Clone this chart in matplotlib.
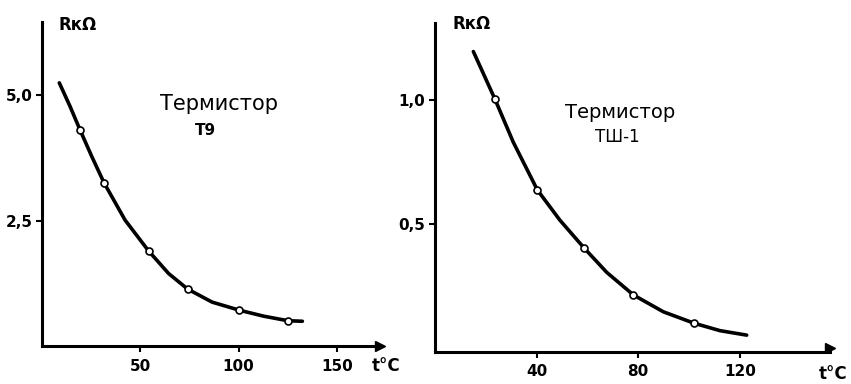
import numpy as np
import matplotlib.pyplot as plt

# left panel: thermistor T9
t9_temp = [19.4, 31.6, 54.2, 74.1, 100.4, 125.2]
t9_res = [4.30, 3.25, 1.90, 1.14, 0.72, 0.51]
t9_curve_t = [8.8, 14.3, 19.4, 25.4, 31.6, 42.3, 54.2, 64.4, 74.1, 86.6, 100.4, 112.9, 125.2, 132.5]
t9_curve_r = [5.24, 4.77, 4.30, 3.77, 3.25, 2.51, 1.90, 1.45, 1.14, 0.88, 0.72, 0.60, 0.51, 0.50]

# right panel: thermistor TSh-1
tw_temp = [23.6, 40.3, 58.8, 78.1, 102.0]
tw_res = [1.003, 0.637, 0.402, 0.214, 0.100]
tw_curve_t = [15.1, 23.6, 30.8, 40.3, 49.2, 58.8, 67.6, 78.1, 89.9, 102.0, 112.2, 122.7]
tw_curve_r = [1.195, 1.003, 0.83, 0.637, 0.515, 0.402, 0.305, 0.214, 0.146, 0.100, 0.070, 0.052]

left_xticks = [50, 100, 150]
left_yticks = [2.5, 5.0]
left_ylabels = ['2,5', '5,0']
right_xticks = [40, 80, 120]
right_yticks = [0.5, 1.0]
right_ylabels = ['0,5', '1,0']

tick_font = dict(family=['Liberation Sans Narrow', 'DejaVu Sans'], weight='bold', size=11)

fig = plt.figure(figsize=(8.51, 3.84), dpi=100)


def style_axes(ax, xticks, yticks, ylabels):
    for s in ['top', 'right']:
        ax.spines[s].set_visible(False)
    for s in ['left', 'bottom']:
        ax.spines[s].set_linewidth(2.2)
    ax.set_xticks(xticks)
    ax.set_xticklabels([str(v) for v in xticks], fontdict=tick_font)
    ax.set_yticks(yticks)
    ax.set_yticklabels(ylabels, fontdict=tick_font)
    ax.tick_params(axis='both', direction='out', length=4, width=1.5, pad=3)
    ax.tick_params(axis='x', pad=5)
    # arrow at the end of the x axis
    ax.plot(1, 0, '>k', markersize=7, transform=ax.get_yaxis_transform(), clip_on=False)
    ax.patch.set_alpha(0)


ax1 = fig.add_axes([42 / 851, 37.6 / 384, 338 / 851, 324.4 / 384])
ax1.plot(t9_curve_t, t9_curve_r, color='black', lw=2.6,
         solid_capstyle='round', solid_joinstyle='round')
ax1.plot(t9_temp, t9_res, 'o', ms=5, mfc='white', mec='black', mew=1.2)
ax1.set_xlim(0, 172)
ax1.set_ylim(0, 6.45)
style_axes(ax1, left_xticks, left_yticks, left_ylabels)

ax2 = fig.add_axes([435 / 851, 32 / 384, 395 / 851, 329 / 384])
ax2.plot(tw_curve_t, tw_curve_r, color='black', lw=2.6,
         solid_capstyle='round', solid_joinstyle='round')
ax2.plot(tw_temp, tw_res, 'o', ms=5, mfc='white', mec='black', mew=1.2)
ax2.set_xlim(0, 155.5)
ax2.set_ylim(-0.016, 1.31)
style_axes(ax2, right_xticks, right_yticks, right_ylabels)

# labels and titles
fig.text(78 / 851, 1 - 25 / 384, 'RкΩ', ha='center', va='center', fontsize=12, weight='bold')
fig.text(472 / 851, 1 - 24 / 384, 'RкΩ', ha='center', va='center', fontsize=12, weight='bold')
fig.text(386 / 851, 1 - 366 / 384, 't°C', ha='center', va='center', fontsize=12, weight='bold')
fig.text(833 / 851, 1 - 374 / 384, 't°C', ha='center', va='center', fontsize=12, weight='bold')

fig.text(219 / 851, 1 - 104 / 384, 'Термистор', ha='center', va='center', fontsize=15)
fig.text(205 / 851, 1 - 130 / 384, 'Т9', ha='center', va='center', fontsize=11, weight='bold')
fig.text(620 / 851, 1 - 113 / 384, 'Термистор', ha='center', va='center', fontsize=14)
fig.text(617 / 851, 1 - 137 / 384, 'ТШ-1', ha='center', va='center', fontsize=12)

fig.savefig('out.png', dpi=100, facecolor='white')
